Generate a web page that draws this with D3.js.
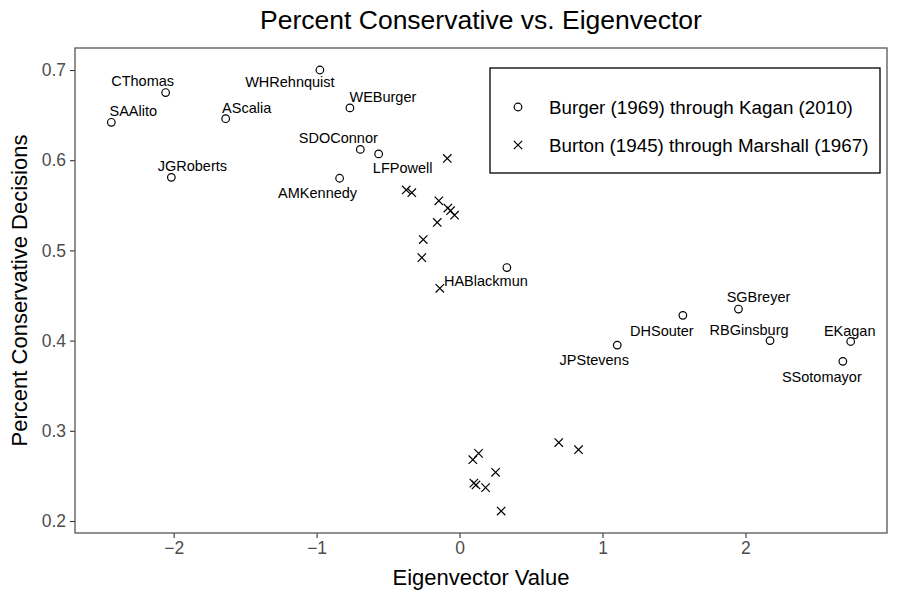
<!DOCTYPE html>
<html>
<head>
<meta charset="utf-8">
<script src="https://cdn.jsdelivr.net/npm/d3@7"></script>
<style>
  body { margin: 0; background: #fff; }
  text { font-family: "Liberation Sans", Arial, Helvetica, sans-serif; }
</style>
</head>
<body>
<svg width="900" height="600"></svg>
<script>
// justices from Burger (1969) through Kagan (2010)
const modernNames = ['CThomas', 'WHRehnquist', 'SAAlito', 'AScalia', 'WEBurger', 'SDOConnor',
  'LFPowell', 'JGRoberts', 'AMKennedy', 'HABlackmun', 'SGBreyer', 'DHSouter',
  'RBGinsburg', 'EKagan', 'JPStevens', 'SSotomayor'];
const modernEigen = [-2.056, -0.977, -2.436, -1.636, -0.767, -0.694,
  -0.566, -2.016, -0.839, 0.331, 1.951, 1.562,
  2.172, 2.736, 1.103, 2.681];
const modernPct = [0.675, 0.700, 0.642, 0.646, 0.658, 0.612,
  0.607, 0.581, 0.580, 0.481, 0.435, 0.428,
  0.400, 0.399, 0.395, 0.377];

// justices from Burton (1945) through Marshall (1967)
const earlyEigen = [-0.086, -0.373, -0.334, -0.145, -0.082, -0.063, -0.035, -0.156,
  -0.254, -0.264, -0.138, 0.133, 0.093, 0.252, 0.100, 0.115, 0.182, 0.291, 0.694, 0.832];
const earlyPct = [0.602, 0.567, 0.564, 0.555, 0.547, 0.544, 0.539, 0.531,
  0.512, 0.492, 0.458, 0.275, 0.268, 0.254, 0.242, 0.240, 0.237, 0.211, 0.287, 0.279];

const xTicks = [-2, -1, 0, 1, 2];
const yTicks = [0.2, 0.3, 0.4, 0.5, 0.6, 0.7];

const legendLabels = ['Burger (1969) through Kagan (2010)', 'Burton (1945) through Marshall (1967)'];

// where each name sits relative to its point (pixels)
const labelShift = {
  CThomas: [-23, -12], WHRehnquist: [-30, 12], SAAlito: [22, -11], AScalia: [21, -11],
  WEBurger: [33, -11], SDOConnor: [-22, -11], LFPowell: [24, 14], JGRoberts: [21, -11],
  AMKennedy: [-22, 15], HABlackmun: [-21, 13], SGBreyer: [20, -12], DHSouter: [-21, 16],
  RBGinsburg: [-21, -11], EKagan: [-1, -11], JPStevens: [-23, 15], SSotomayor: [-21, 16]
};

const svg = d3.select('svg');

const panelLeft = 75, panelRight = 887, panelTop = 48, panelBottom = 533;

const x = d3.scaleLinear().domain([-2.69, 2.99]).range([panelLeft, panelRight]);
const y = d3.scaleLinear().domain([0.1867, 0.7244]).range([panelBottom, panelTop]);

// axes
const xAxis = svg.append('g')
  .attr('transform', `translate(0, ${panelBottom})`)
  .call(d3.axisBottom(x).tickValues(xTicks).tickSize(5).tickPadding(4).tickFormat(d3.format('d')));

const yAxis = svg.append('g')
  .attr('transform', `translate(${panelLeft}, 0)`)
  .call(d3.axisLeft(y).tickValues(yTicks).tickSize(5).tickPadding(4).tickFormat(d3.format('.1f')));

[xAxis, yAxis].forEach(a => {
  a.select('.domain').remove();
  a.selectAll('.tick line').attr('stroke', '#333').attr('stroke-width', 1.1);
  a.selectAll('.tick text')
    .attr('fill', '#4d4d4d')
    .style('font-size', '17.5px');
});

// panel border
svg.append('rect')
  .attr('x', panelLeft)
  .attr('y', panelTop)
  .attr('width', panelRight - panelLeft)
  .attr('height', panelBottom - panelTop)
  .attr('fill', 'none')
  .attr('stroke', '#555')
  .attr('stroke-width', 1.3);

// titles
svg.append('text')
  .attr('x', (panelLeft + panelRight) / 2)
  .attr('y', 29)
  .attr('text-anchor', 'middle')
  .style('font-size', '26.5px')
  .text('Percent Conservative vs. Eigenvector');

svg.append('text')
  .attr('x', (panelLeft + panelRight) / 2)
  .attr('y', 585)
  .attr('text-anchor', 'middle')
  .style('font-size', '22px')
  .text('Eigenvector Value');

svg.append('text')
  .attr('transform', `translate(27, ${(panelTop + panelBottom) / 2}) rotate(-90)`)
  .attr('text-anchor', 'middle')
  .style('font-size', '22px')
  .text('Percent Conservative Decisions');

const cross = (g, s) => g.append('path')
  .attr('d', `M${-s},${-s}L${s},${s}M${-s},${s}L${s},${-s}`)
  .attr('stroke', '#000')
  .attr('stroke-width', 1.2)
  .attr('fill', 'none');

// early justices as crosses
earlyEigen.forEach((e, i) => {
  const g = svg.append('g').attr('transform', `translate(${x(e)}, ${y(earlyPct[i])})`);
  cross(g, 4.2);
});

// modern justices as open circles with names
modernEigen.forEach((e, i) => {
  const px = x(e), py = y(modernPct[i]);
  svg.append('circle')
    .attr('cx', px)
    .attr('cy', py)
    .attr('r', 3.8)
    .attr('fill', 'none')
    .attr('stroke', '#000')
    .attr('stroke-width', 1.2);
  const s = labelShift[modernNames[i]];
  svg.append('text')
    .attr('x', px + s[0])
    .attr('y', py + s[1])
    .attr('text-anchor', 'middle')
    .attr('dominant-baseline', 'central')
    .style('font-size', '14.5px')
    .text(modernNames[i]);
});

// legend
const legend = svg.append('g');
legend.append('rect')
  .attr('x', 490)
  .attr('y', 68)
  .attr('width', 390)
  .attr('height', 105)
  .attr('fill', '#fff')
  .attr('stroke', '#000')
  .attr('stroke-width', 1.3);

legendLabels.forEach((lab, i) => {
  const ly = 107 + i * 38;
  if (i === 0) {
    legend.append('circle')
      .attr('cx', 518).attr('cy', ly).attr('r', 3.8)
      .attr('fill', 'none').attr('stroke', '#000').attr('stroke-width', 1.2);
  } else {
    cross(legend.append('g').attr('transform', `translate(518, ${ly})`), 4.2);
  }
  legend.append('text')
    .attr('x', 549)
    .attr('y', ly)
    .attr('dominant-baseline', 'central')
    .style('font-size', '18.8px')
    .text(lab);
});
</script>
</body>
</html>
